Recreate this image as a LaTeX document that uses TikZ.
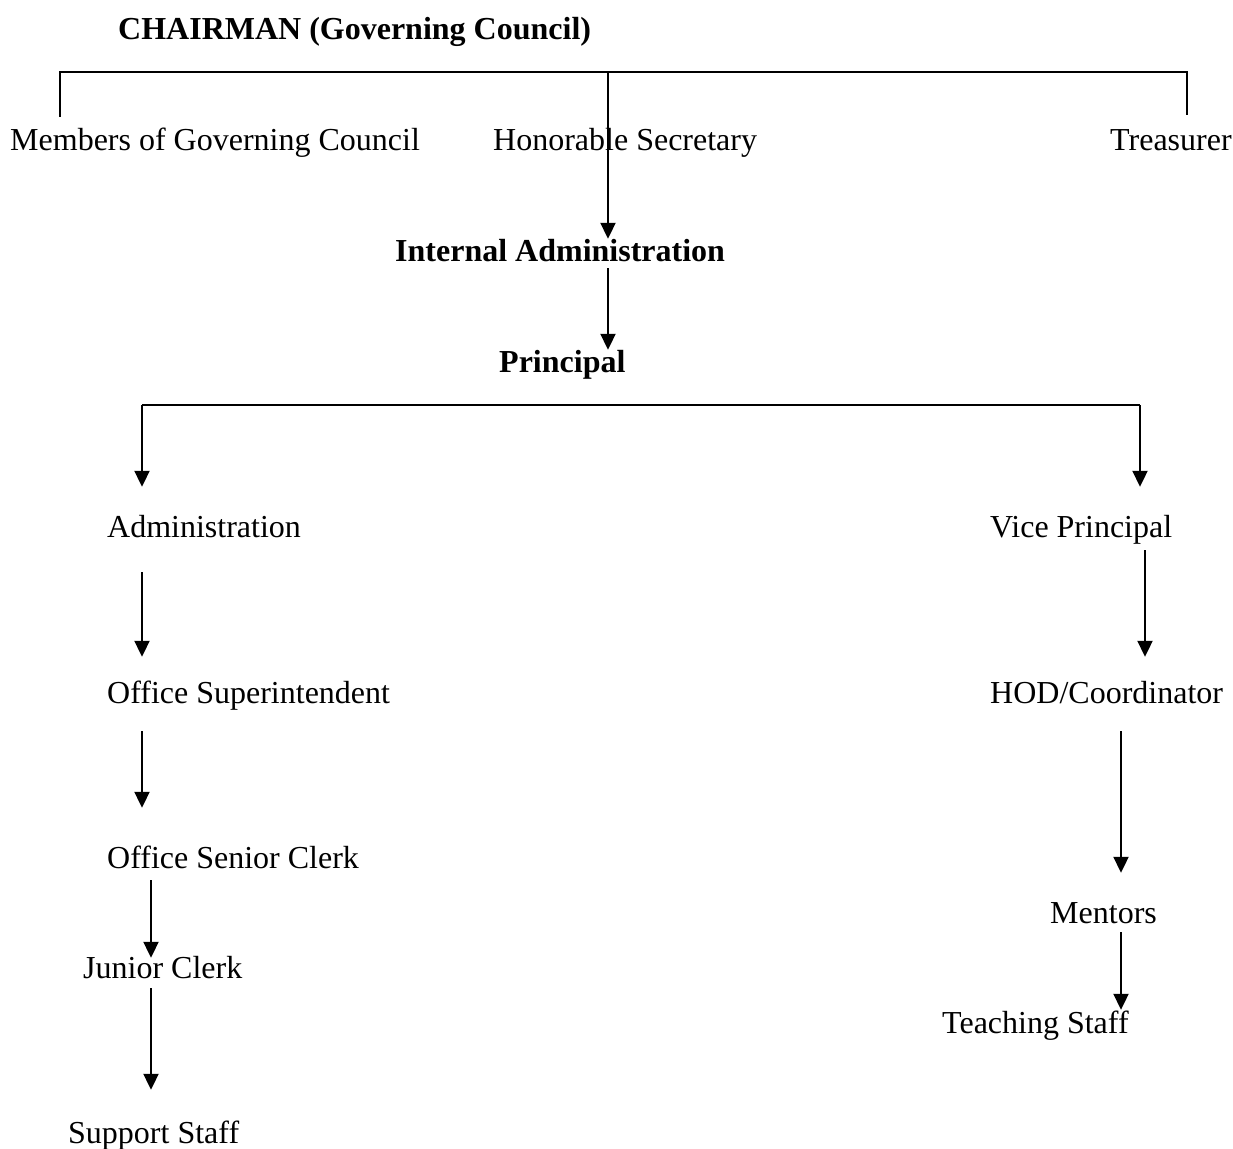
\documentclass[tikz,border=0pt]{standalone}
\usepackage{fontspec}
\setmainfont{Liberation Serif}
\usetikzlibrary{arrows.meta}
\tikzset{
	lbl/.style={font=\fontsize{32}{38}\selectfont, inner sep=0pt, text height=22pt, text depth=7pt, anchor=base west},
	blbl/.style={lbl, font=\fontsize{32}{38}\selectfont\bfseries},
	link/.style={line width=2pt},
	arr/.style={line width=2pt, -{Triangle[width=15pt,length=16pt]}}
}
\begin{document}
\begin{tikzpicture}[x=1pt, y=-1pt]
			%%%%% START %%%%%
			\useasboundingbox (0, 0) rectangle (1233, 1148);
			
			\node[blbl] (chair) at (118, 40) {CHAIRMAN (Governing Council)};
			
			\node[lbl] (members) at (10, 150) {Members of Governing Council};
			\node[lbl] (honsec) at (493, 150) {Honorable Secretary};
			\node[lbl] (treas) at (1110, 150) {Treasurer};
			
			\node[blbl] (intadm) at (395, 261) {Internal Administration};
			\node[blbl] (princ) at (499, 372) {Principal};
			
			\node[lbl] (admin) at (107, 537) {Administration};
			\node[lbl] (offsup) at (107, 703) {Office Superintendent};
			\node[lbl] (senclerk) at (107, 868) {Office Senior Clerk};
			\node[lbl] (junclerk) at (83, 978) {Junior Clerk};
			\node[lbl] (support) at (68, 1143) {Support Staff};
			
			\node[lbl] (vice) at (990, 537) {Vice Principal};
			\node[lbl] (hod) at (990, 703) {HOD/Coordinator};
			\node[lbl] (mentors) at (1050, 923) {Mentors};
			\node[lbl] (teach) at (942, 1033) {Teaching Staff};
			
			% governing council bar
			\coordinate (topL) at (60, 72);
			\coordinate (topM) at (608, 72);
			\coordinate (topR) at (1187, 72);
			\draw[link] ([yshift=11pt]members.north -| topL) -- (topL) -- (topR) -- ([yshift=13pt]treas.north -| topR);
			\draw[arr] (topM) -- (intadm.north -| topM);
			\draw[arr] (intadm.south -| topM) -- (princ.north -| topM);
			
			% principal bar
			\coordinate (botL) at (142, 405);
			\coordinate (botR) at (1140, 405);
			\draw[link] (botL) -- (botR);
			\draw[arr] (botL) -- ([yshift=28pt]admin.north -| botL);
			\draw[arr] (botR) -- ([yshift=28pt]vice.north -| botR);
			
			% administration side
			\coordinate (colA) at (142, 0);
			\coordinate (colB) at (151, 0);
			\draw[arr] ([yshift=-28pt]admin.south -| colA) -- ([yshift=24pt]offsup.north -| colA);
			\draw[arr] ([yshift=-21pt]offsup.south -| colA) -- ([yshift=38pt]senclerk.north -| colA);
			\draw[arr] ([yshift=-5pt]senclerk.south -| colB) -- ([yshift=-2pt]junclerk.north -| colB);
			\draw[arr] ([yshift=-3pt]junclerk.south -| colB) -- ([yshift=31pt]support.north -| colB);
			
			% academic side
			\coordinate (colC) at (1145, 0);
			\coordinate (colD) at (1121, 0);
			\draw[arr] ([yshift=-6pt]vice.south -| colC) -- ([yshift=24pt]hod.north -| colC);
			\draw[arr] ([yshift=-21pt]hod.south -| colD) -- ([yshift=28pt]mentors.north -| colD);
			\draw[arr] ([yshift=-2pt]mentors.south -| colD) -- ([yshift=1pt]teach.north -| colD);
			
			%%%%% END %%%%%
\end{tikzpicture}
\end{document}
